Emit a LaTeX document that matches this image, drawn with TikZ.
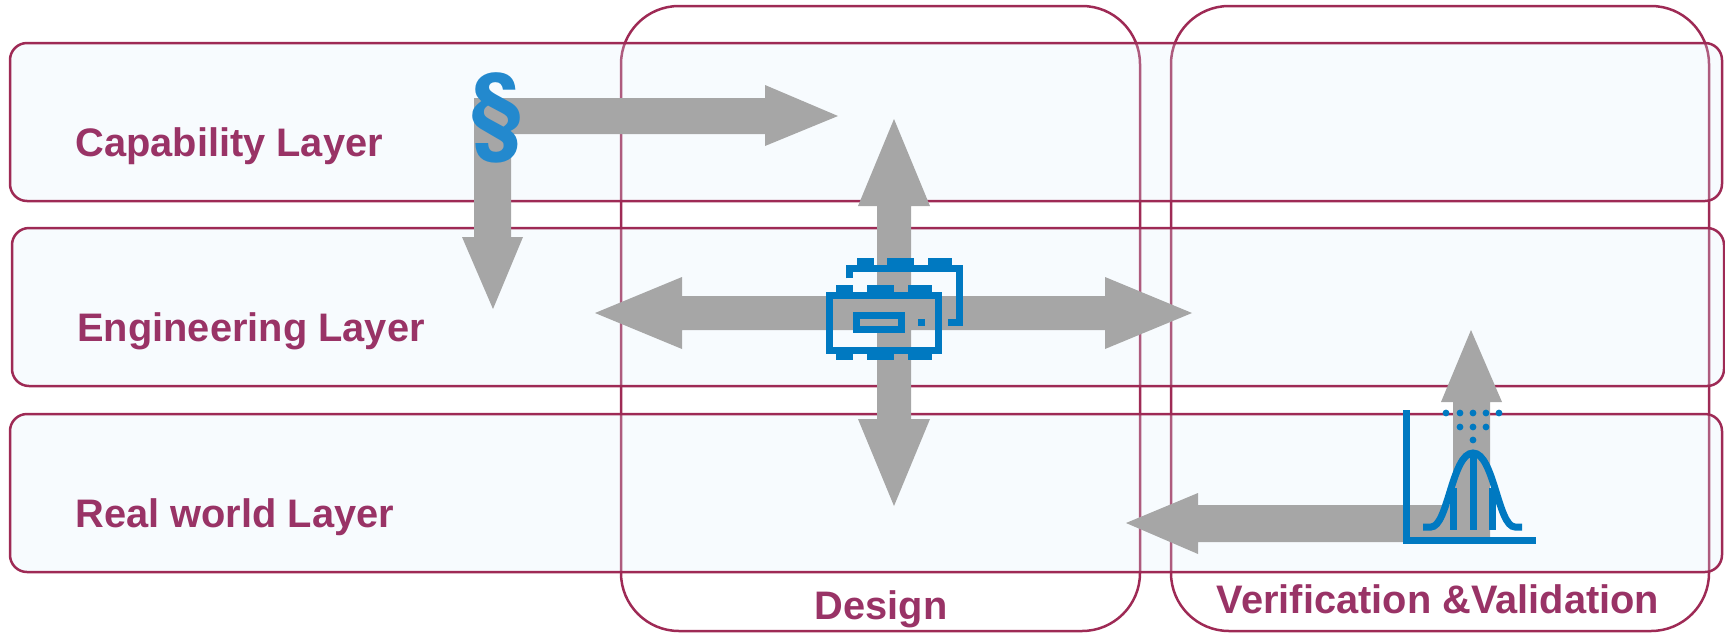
\documentclass[tikz,border=0pt]{standalone}
\usepackage{fontspec}
\setmainfont{Liberation Sans}
\newfontfamily\parafont{TeX Gyre Heros}
\definecolor{frameC}{HTML}{9E2A55}
\definecolor{textC}{HTML}{993366}
\definecolor{arrowC}{HTML}{A6A6A6}
\definecolor{iconC}{HTML}{0079C1}
\definecolor{paraC}{HTML}{2389CE}
\definecolor{layerC}{HTML}{DFEFFB}
\tikzset{
  phase/.style={draw=frameC,line width=1.25pt,rounded corners=29pt,inner sep=0pt},
  layerbox/.style={draw=frameC,line width=1.25pt,fill=layerC,fill opacity=.25,rounded corners=8.5pt,minimum width=856pt,minimum height=79pt,inner sep=0pt},
  label/.style={text=textC,font=\fontsize{19.9}{24}\selectfont\bfseries,anchor=base west,inner sep=0pt},
  blockarrow/.style={fill=arrowC,draw=none},
  iconline/.style={draw=iconC,line width=3.5pt,fill=none,line cap=butt,line join=miter},
  iconfill/.style={fill=iconC,draw=none}
}
\begin{document}
\begin{tikzpicture}[x=0.5pt,y=-0.5pt]
\useasboundingbox (0,0) rectangle (1725,633);
% phases
\node[phase,minimum width=259.5pt,minimum height=312.5pt] (design) at (880.5,318.5) {};
\node[phase,minimum width=269pt,minimum height=312.5pt] (vv) at (1440,318.5) {};
% layers
\node[layerbox] (capL) at (866,122) {};
\node[layerbox] (engL) at (868,307) {};
\node[layerbox] (realL) at (866,493) {};
% labels
\node[label] (capT) at (75,156) {Capability Layer};
\node[label] (engT) at (77,341) {Engineering Layer};
\node[label] (realT) at (75,527) {Real world Layer};
\node[label,anchor=base] (desT) at (881,619) {Design};
\node[label,anchor=base] (vvT) at (1438,613) {Verification \&Validation};
% arrows
\fill[blockarrow] (474,98) -- (765,98) -- (765,85) -- (838,116) -- (765,146) -- (765,134) -- (511,134) -- (511,237) -- (523,237) -- (493,309) -- (462,237) -- (474,237) -- cycle;
\fill[blockarrow] (877,296) -- (877,206) -- (858,206) -- (894,119) -- (930,206) -- (911,206) -- (911,296)
  -- (1105,296) -- (1105,277) -- (1192,313) -- (1105,349) -- (1105,330) -- (911,330)
  -- (911,419) -- (930,419) -- (894,506) -- (858,419) -- (877,419) -- (877,330)
  -- (682,330) -- (682,349) -- (595,313) -- (682,277) -- (682,296) -- cycle;
\fill[blockarrow] (1453,505) -- (1198,505) -- (1198,493) -- (1126,523) -- (1198,554) -- (1198,542) -- (1490,542) -- (1490,402) -- (1502,402) -- (1471,330) -- (1441,402) -- (1453,402) -- cycle;
% paragraph sign
\node[text=paraC,font=\parafont\fontsize{49}{50}\selectfont\bfseries,inner sep=0pt] (para) at (497,117.5) {§};
% chip icon (front)
\begin{scope}[shift={(815,250)},x=0.1667pt,y=-0.1667pt]
\draw[iconline] (42,135) rectangle (370,300);
\draw[iconline] (124.5,197.5) rectangle (258.5,238);
\fill[iconfill] (308,207) rectangle (330,228);
\fill[iconfill] (62,105) rectangle (115,130);
\fill[iconfill] (155,105) rectangle (237,130);
\fill[iconfill] (278,105) rectangle (350,130);
\fill[iconfill] (62,305) rectangle (115,331);
\fill[iconfill] (155,305) rectangle (237,331);
\fill[iconfill] (278,305) rectangle (350,331);
\draw[iconline] (104,85) -- (104,54) -- (432,54) -- (432,218) -- (400,218);
\fill[iconfill] (125,23) rectangle (176,48);
\fill[iconfill] (217,23) rectangle (298,48);
\fill[iconfill] (340,23) rectangle (412,48);
\end{scope}
% distribution icon
\draw[iconline] (1406.5,410) -- (1406.5,540) -- (1536,540);
\draw[iconline] (1423,527) -- (1431,527) .. controls (1448,527) and (1452,453) .. (1473,453) .. controls (1494,453) and (1498,527) .. (1515,527) -- (1522,527);
\draw[iconline] (1473,453) -- (1473,530);
\draw[iconline] (1453,488) -- (1453,530);
\draw[iconline] (1492,488) -- (1492,530);
\foreach \px/\py in {1446/413,1460/413,1473/413,1486/413,1499/413,1460/427,1473/427,1486/427,1473/440}
  \fill[iconfill] (\px,\py) circle (1.7pt);
\end{tikzpicture}
\end{document}
